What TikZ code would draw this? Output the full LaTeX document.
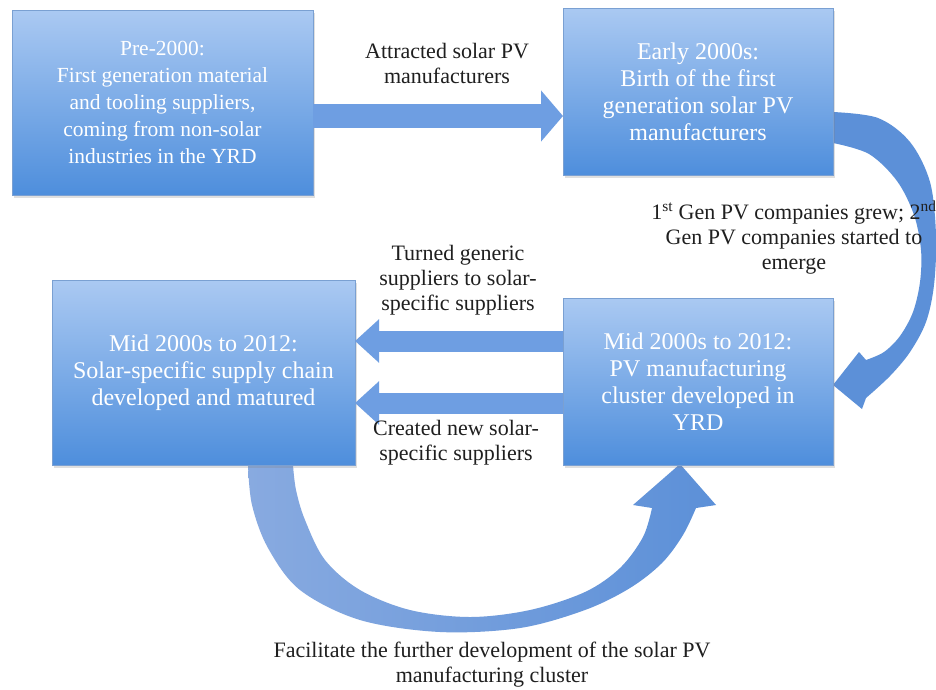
\documentclass[tikz,border=0pt]{standalone}
\usepackage{fontspec}
\setmainfont{Liberation Serif}
\usetikzlibrary{arrows.meta,shadows}

\definecolor{boxtop}{RGB}{170,201,242}
\definecolor{boxbot}{RGB}{78,142,220}
\definecolor{boxline}{RGB}{122,160,210}
\definecolor{flowblue}{RGB}{110,158,226}
\definecolor{bendblue}{RGB}{92,144,216}
\definecolor{bendlight}{RGB}{136,170,224}

\begin{document}
\begin{tikzpicture}[x=1pt,y=-1pt,
  box/.style={draw=boxline,line width=0.6pt,top color=boxtop,bottom color=boxbot,
    text=white,align=center,inner sep=0pt,outer sep=0pt,
    font=\fontsize{24}{27}\selectfont,
    drop shadow={shadow xshift=1.5pt,shadow yshift=-2.5pt,opacity=0.25}},
  lbl/.style={align=center,inner sep=0pt,text=black!88,font=\fontsize{22}{25}\selectfont},
  wide/.style={line width=24pt,draw=flowblue,-{Triangle[length=22pt,width=50pt]}},
  back/.style={line width=21pt,draw=flowblue,-{Triangle[length=24pt,width=42pt]}}]
\fill[white] (0,0) rectangle (936,689);

% curved arrows, drawn under the boxes
\fill[bendblue] plot[smooth,tension=0.55] coordinates {(833,112) (878,118) (910,142) (930,182) (936,235) (934,285) (926,322) (910,352) (890,376) (866,398)}
  -- (862,409) -- (833,385) -- (859,352) -- (866,360)
  -- plot[smooth,tension=0.55] coordinates {(866,360) (884,352) (900,336) (913,312) (920,282) (921,250) (914,215) (897,181) (869,154) (833,143)} -- cycle;
\shade[left color=bendlight,right color=bendblue] plot[smooth,tension=0.55] coordinates {(248,465) (252,505) (268,548) (300,590) (360,620) (440,632) (520,628) (585,610) (630,588) (662,563) (683,535) (696,508)}
  -- (716,505) -- (680,464) -- (633,505) -- (652,508)
  -- plot[smooth,tension=0.55] coordinates {(652,508) (643,537) (620,568) (585,592) (530,610) (470,617) (410,610) (360,590) (325,560) (305,520) (296,490) (293,465)} -- cycle;

\node[box,minimum width=301pt,minimum height=185pt,font=\fontsize{21.5}{27}\selectfont] (pre) at (162.5,102.5)
  {Pre-2000:\\First generation material\\and tooling suppliers,\\coming from non-solar\\industries in the YRD};
\node[box,minimum width=270pt,minimum height=167pt] (early) at (698,91.5)
  {Early 2000s:\\Birth of the first\\generation solar PV\\manufacturers};
\node[box,minimum width=303pt,minimum height=185pt] (chain) at (203.5,372.5)
  {Mid 2000s to 2012:\\Solar-specific supply chain\\developed and matured};
\node[box,minimum width=270pt,minimum height=167pt] (mid) at (698,381.5)
  {Mid 2000s to 2012:\\PV manufacturing\\cluster developed in\\YRD};

\draw[wide] (pre.east |- 0,116) -- (early.west |- 0,116);
\draw[back] (mid.west |- 0,341) -- (chain.east |- 0,341);
\draw[back] (mid.west |- 0,403) -- (chain.east |- 0,403);

\node[lbl] (attr) at (447,63) {Attracted solar PV\\manufacturers};
\node[lbl] (turned) at (458,280) {Turned generic\\suppliers to solar-\\specific suppliers};
\node[lbl] (created) at (456,442.5) {Created new solar-\\specific suppliers};
\node[lbl] (grew) at (794,237.5) {1\textsuperscript{st} Gen PV companies grew; 2\textsuperscript{nd}\\Gen PV companies started to\\emerge};
\node[lbl] (facil) at (492,664.5) {Facilitate the further development of the solar PV\\manufacturing cluster};

\pgfresetboundingbox
\path[use as bounding box] (0,0) rectangle (936,689);
\end{tikzpicture}
\end{document}
